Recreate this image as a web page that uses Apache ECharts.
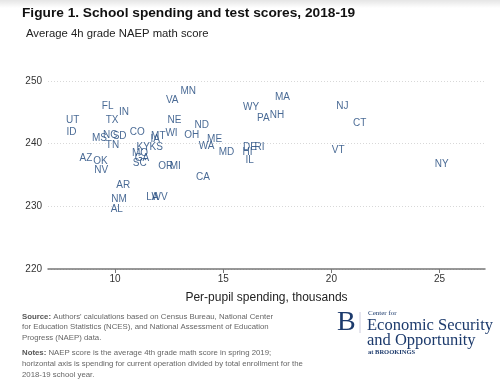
<!DOCTYPE html>
<html>
<head>
<meta charset="utf-8">
<script src="https://cdn.jsdelivr.net/npm/echarts@6/dist/echarts.min.js"></script>
<style>
  html, body { margin: 0; padding: 0; background: #fff; }
  #chart { width: 500px; height: 385px; }
</style>
</head>
<body>
<div id="chart"></div>
<script>
// state labels and their positions (spending in $ thousands, NAEP 4th grade math score)
const states = ['UT', 'ID', 'FL', 'TX', 'IN', 'MS', 'NC', 'SD', 'CO', 'TN',
  'MT', 'IA', 'KY', 'KS', 'MO', 'GA', 'SC', 'AZ', 'OK', 'NV',
  'AR', 'NM', 'AL', 'LA', 'WV', 'OR', 'MI', 'MN', 'VA', 'NE',
  'ND', 'WI', 'OH', 'ME', 'WA', 'MD', 'HI', 'DE', 'RI', 'IL',
  'CA', 'WY', 'PA', 'NH', 'MA', 'NJ', 'CT', 'VT', 'NY'];
const spending = [8.04, 7.99, 9.66, 9.86, 10.41, 9.28, 9.78, 10.21, 11.03, 9.88,
  12.0, 11.86, 11.30, 11.90, 11.15, 11.24, 11.14, 8.65, 9.32, 9.36,
  10.38, 10.18, 10.08, 11.72, 12.06, 12.34, 12.78, 13.38, 12.64, 12.75,
  14.01, 12.61, 13.54, 14.60, 14.23, 15.15, 16.12, 16.24, 16.68, 16.22,
  14.06, 16.29, 16.85, 17.48, 17.74, 20.51, 21.31, 20.31, 25.10];
const scores = [243.8, 241.9, 246.0, 243.7, 245.0, 240.8, 241.3, 241.25, 241.85, 239.7,
  241.15, 240.75, 239.4, 239.5, 238.45, 237.7, 236.8, 237.6, 237.15, 235.7,
  233.3, 231.1, 229.6, 231.5, 231.5, 236.35, 236.35, 248.4, 246.85, 243.7,
  242.95, 241.7, 241.27, 240.73, 239.6, 238.6, 238.7, 239.4, 239.4, 237.35,
  234.7, 245.86, 243.98, 244.5, 247.4, 245.97, 243.2, 238.9, 236.7];
const xTicks = [10, 15, 20, 25];

const font = 'Liberation Sans, Arial, sans-serif';
const serif = 'Liberation Serif, DejaVu Serif, serif';
const navy = '#1c3a6c';

const chart = echarts.init(document.getElementById('chart'));

const points = states.map((s, i) => [spending[i], scores[i], s]);

const option = {
  backgroundColor: '#fff',
  animation: false,
  title: [
    {
      text: 'Figure 1. School spending and test scores, 2018-19',
      left: 17, top: 1,
      textStyle: { fontFamily: font, fontSize: 13.7, fontWeight: 'bold', color: '#111' }
    },
    {
      text: 'Average 4h grade NAEP math score',
      left: 21, top: 23,
      textStyle: { fontFamily: font, fontSize: 11.3, fontWeight: 'normal', color: '#222' }
    }
  ],
  grid: { left: 48, right: 15, top: 81, bottom: 116 },
  xAxis: {
    type: 'value',
    min: 6.9,
    max: 27.1,
    name: 'Per-pupil spending, thousands',
    nameLocation: 'middle',
    nameGap: 23,
    nameTextStyle: { fontFamily: font, fontSize: 12, color: '#222' },
    axisLine: { lineStyle: { color: '#777', width: 1.5 } },
    axisTick: { show: true, customValues: xTicks, length: 4, lineStyle: { color: '#777' } },
    axisLabel: { customValues: xTicks, fontFamily: font, fontSize: 10, color: '#333', margin: 5 },
    splitLine: { show: false }
  },
  yAxis: {
    type: 'value',
    min: 220,
    max: 250,
    interval: 10,
    axisLine: { show: false },
    axisTick: { show: false },
    axisLabel: { fontFamily: font, fontSize: 10, color: '#333', margin: 6 },
    splitLine: { lineStyle: { color: '#d8d8d8', type: [1, 2], width: 1 } }
  },
  series: [
    {
      type: 'scatter',
      data: points,
      symbolSize: 1,
      itemStyle: { color: 'rgba(0,0,0,0)' },
      label: {
        show: true,
        position: 'inside',
        formatter: p => p.data[2],
        fontFamily: font,
        fontSize: 10,
        color: '#1a4379'
      }
    }
  ],
  graphic: [
    {
      type: 'rect',
      left: 0, top: 0,
      shape: { width: 500, height: 8 },
      style: {
        fill: new echarts.graphic.LinearGradient(0, 0, 0, 1, [
          { offset: 0, color: 'rgba(0,0,0,0.10)' },
          { offset: 1, color: 'rgba(0,0,0,0)' }
        ])
      },
      silent: true
    },
    {
      type: 'text',
      left: 22, top: 311,
      style: {
        text: '{b|Source:} Authors\' calculations based on Census Bureau, National Center\nfor Education Statistics (NCES), and National Assessment of Education\nProgress (NAEP) data.',
        fontFamily: font, fontSize: 7.8, lineHeight: 10.8, fill: '#666',
        rich: { b: { fontFamily: font, fontSize: 7.8, fontWeight: 'bold', fill: '#555' } }
      }
    },
    {
      type: 'text',
      left: 22, top: 347,
      style: {
        text: '{b|Notes:} NAEP score is the average 4th grade math score in spring 2019;\nhorizontal axis is spending for current operation divided by total enrollment for the\n2018-19 school year.',
        fontFamily: font, fontSize: 7.8, lineHeight: 11.3, fill: '#666',
        rich: { b: { fontFamily: font, fontSize: 7.8, fontWeight: 'bold', fill: '#555' } }
      }
    },
    {
      type: 'text',
      left: 337, top: 309,
      style: { text: 'B', fontFamily: serif, fontSize: 28, fill: navy }
    },
    {
      type: 'line',
      shape: { x1: 360, y1: 312, x2: 360, y2: 333 },
      style: { stroke: '#ccd', lineWidth: 1 }
    },
    {
      type: 'text',
      left: 368, top: 310,
      style: { text: 'Center for', fontFamily: serif, fontSize: 7, fill: navy }
    },
    {
      type: 'text',
      left: 367, top: 317,
      style: { text: 'Economic Security', fontFamily: serif, fontSize: 16.5, fill: navy }
    },
    {
      type: 'text',
      left: 367, top: 332,
      style: { text: 'and Opportunity', fontFamily: serif, fontSize: 16.5, fill: navy }
    },
    {
      type: 'text',
      left: 368, top: 349,
      style: { text: 'at BROOKINGS', fontFamily: serif, fontSize: 6.5, fontWeight: 'bold', fill: navy }
    }
  ]
};

chart.setOption(option);
</script>
</body>
</html>
